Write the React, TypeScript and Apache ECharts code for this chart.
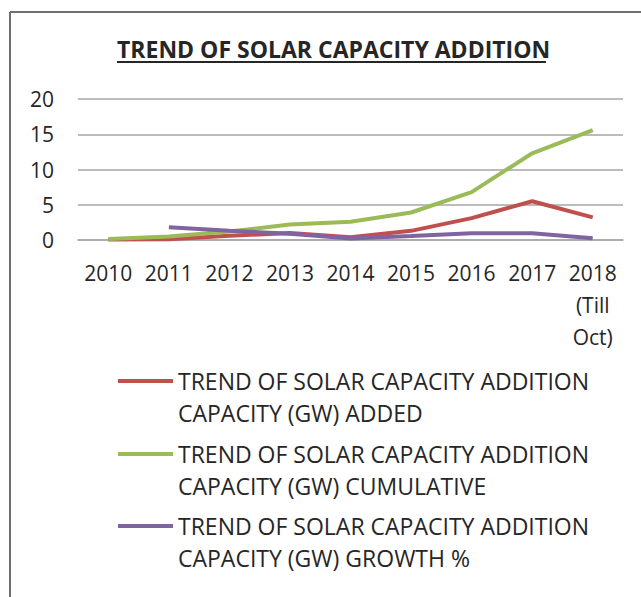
import React, { useEffect, useRef } from "react";
import * as echarts from "echarts";

const titleText = "TREND OF SOLAR CAPACITY ADDITION";
const categories = ["2010", "2011", "2012", "2013", "2014", "2015", "2016", "2017", "2018\n(Till\nOct)"];
const yTicks = [0, 5, 10, 15, 20];
const seriesNames = [
  "TREND OF SOLAR CAPACITY ADDITION\nCAPACITY (GW) ADDED",
  "TREND OF SOLAR CAPACITY ADDITION\nCAPACITY (GW) CUMULATIVE",
  "TREND OF SOLAR CAPACITY ADDITION\nCAPACITY (GW) GROWTH %",
];
const added = [0.06, 0.1, 0.6, 1.0, 0.4, 1.3, 3.1, 5.5, 3.2];
const cumulative = [0.15, 0.5, 1.2, 2.2, 2.6, 3.9, 6.8, 12.3, 15.6];
const growth = [null, 1.8, 1.3, 0.9, 0.2, 0.55, 0.95, 0.95, 0.25];
const colors = ["#C0504D", "#9BBB59", "#8064A2"];

const FONT = "'Open Sans', sans-serif";
const FS = 21;
const LFS = 23;
const LH = 32;
// legend icon: thin bar at the top of a box as tall as one text line + bar offset
const ICON = "path://M0,0H55V4H0Z M0,35.9H0.05V36H0Z";

export default function App() {
  const ref = useRef<HTMLDivElement>(null);
  useEffect(() => {
    const chart = echarts.init(ref.current!, null, { renderer: "svg" });
    const legendYs = [383, 456, 528];
    chart.setOption({
      animation: false,
      backgroundColor: "#ffffff",
      title: {
        text: titleText,
        left: 112,
        top: 32,
        textStyle: { fontFamily: FONT, fontSize: 23, fontWeight: "bold", color: "#262626" },
      },
      graphic: [
        { type: "line", shape: { x1: 10, y1: 12, x2: 700, y2: 12 }, style: { stroke: "#6e6e6e", lineWidth: 2 } },
        { type: "line", shape: { x1: 10, y1: 12, x2: 10, y2: 700 }, style: { stroke: "#6e6e6e", lineWidth: 2 } },
        { type: "line", shape: { x1: 117, y1: 62, x2: 546, y2: 62 }, style: { stroke: "#262626", lineWidth: 2 } },
      ],
      legend: seriesNames.map((n, i) => ({
        data: [n],
        orient: "vertical",
        left: 118,
        top: legendYs[i] - 2 - 16,
        padding: 0,
        icon: ICON,
        itemWidth: 55,
        itemHeight: 36,
        selectedMode: false,
        textStyle: {
          fontFamily: FONT,
          fontSize: LFS,
          lineHeight: LH,
          color: "#262626",
        },
      })),
      grid: { left: 78, right: 18, top: 99, bottom: 357 },
      xAxis: {
        type: "category",
        data: categories,
        boundaryGap: true,
        axisLine: { show: true, lineStyle: { color: "#a6a6a6", width: 1.5 } },
        axisTick: { show: false },
        axisLabel: {
          interval: 0,
          margin: 17,
          fontFamily: FONT,
          fontSize: FS,
          lineHeight: LH,
          color: "#262626",
        },
      },
      yAxis: {
        type: "value",
        min: yTicks[0],
        max: yTicks[yTicks.length - 1],
        interval: 5,
        axisLine: { show: false },
        axisTick: { show: false },
        splitLine: { lineStyle: { color: "#a6a6a6", width: 1.5 } },
        axisLabel: { margin: 24, fontFamily: FONT, fontSize: FS, color: "#262626" },
      },
      series: [added, cumulative, growth].map((d, i) => ({
        name: seriesNames[i],
        type: "line",
        data: d,
        symbol: "none",
        color: colors[i],
        lineStyle: { color: colors[i], width: 4 },
        itemStyle: { color: colors[i] },
      })),
    });
    return () => chart.dispose();
  }, []);
  return (
    <div
      ref={ref}
      style={{ position: "fixed", left: 0, top: 0, width: 641, height: 597 }}
    />
  );
}
